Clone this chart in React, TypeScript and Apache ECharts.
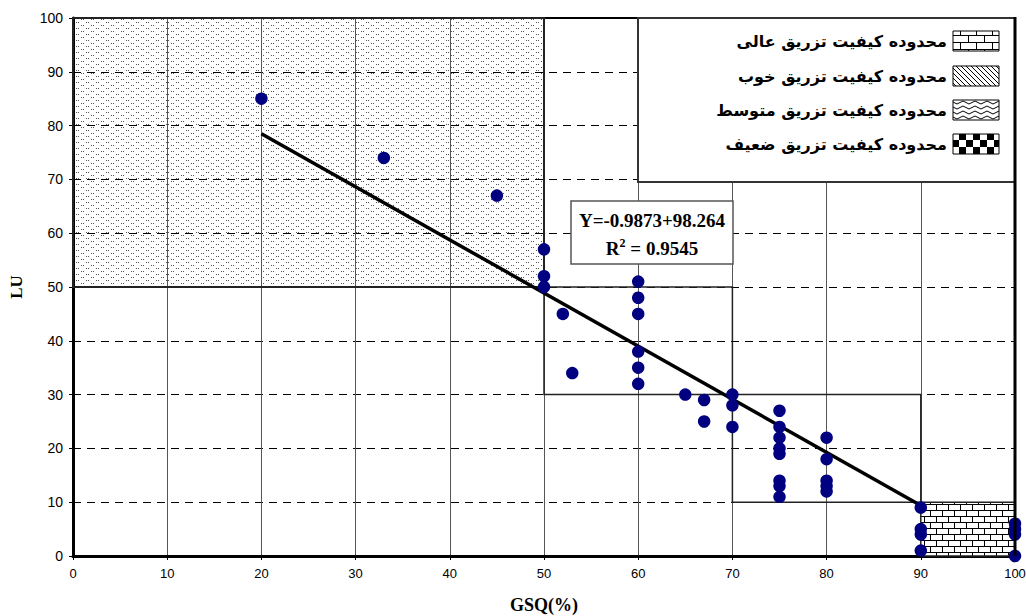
import React, { useEffect, useRef } from "react";
import * as echarts from "echarts";

const gsq = [20, 33, 45, 50, 50, 50, 52, 53, 60, 60, 60, 60, 60, 60, 65, 67, 67, 70, 70, 70, 75, 75, 75, 75, 75, 75, 75, 75, 80, 80, 80, 80, 80, 90, 90, 90, 90, 100, 100, 100, 100];
const lu = [85, 74, 67, 57, 52, 50, 45, 34, 51, 48, 45, 38, 35, 32, 30, 29, 25, 30, 28, 24, 27, 24, 22, 20, 19, 14, 13, 11, 22, 18, 14, 13, 12, 9, 5, 4, 1, 6, 5, 4, 0];
const fitX = [20, 90];
const fitY = [78.5, 9.4];
const axisTicks = [0, 10, 20, 30, 40, 50, 60, 70, 80, 90, 100];
// zones: [xMin, yMin, xMax, yMax]
const zonePoor = [0, 50, 50, 100];
const zoneMid = [50, 30, 70, 50];
const zoneGood = [70, 10, 90, 30];
const zoneExcellent = [90, 0, 100, 10];
const legendLabels = [
  "محدوده کیفیت تزریق عالی",
  "محدوده کیفیت تزریق خوب",
  "محدوده کیفیت تزریق متوسط",
  "محدوده کیفیت تزریق ضعیف",
];
const eqLine1 = "Y=-0.9873+98.264";
const eqR2 = "0.9545";

function makeCanvas(w: number, h: number, draw: (ctx: CanvasRenderingContext2D) => void) {
  const c = document.createElement("canvas");
  c.width = w;
  c.height = h;
  const ctx = c.getContext("2d")!;
  draw(ctx);
  return c;
}

function pattern(c: HTMLCanvasElement) {
  return { image: c, repeat: "repeat", imageWidth: c.width, imageHeight: c.height } as any;
}

export default function App() {
  const ref = useRef<HTMLDivElement>(null);
  useEffect(() => {
    if (!ref.current) return;
    const chart = echarts.init(ref.current, null, { renderer: "svg" });

    const dots = makeCanvas(10, 6, (ctx) => {
      ctx.fillStyle = "#555";
      ctx.fillRect(1, 1, 1, 1);
      ctx.fillRect(3, 1, 1, 1);
      ctx.fillRect(6, 4, 1, 1);
      ctx.fillRect(8, 4, 1, 1);
    });
    const brick = makeCanvas(12, 12, (ctx) => {
      ctx.fillStyle = "#fff";
      ctx.fillRect(0, 0, 12, 12);
      ctx.fillStyle = "#000";
      ctx.fillRect(0, 0, 12, 1);
      ctx.fillRect(0, 6, 12, 1);
      ctx.fillRect(0, 0, 1, 6);
      ctx.fillRect(6, 6, 1, 6);
    });
    const brickLeg = makeCanvas(16, 14, (ctx) => {
      ctx.fillStyle = "#fff";
      ctx.fillRect(0, 0, 16, 14);
      ctx.fillStyle = "#000";
      ctx.fillRect(0, 0, 16, 1);
      ctx.fillRect(0, 7, 16, 1);
      ctx.fillRect(0, 0, 1, 7);
      ctx.fillRect(8, 7, 1, 7);
    });
    const hatch = makeCanvas(5, 5, (ctx) => {
      ctx.fillStyle = "#fff";
      ctx.fillRect(0, 0, 5, 5);
      ctx.fillStyle = "#000";
      for (let i = 0; i < 5; i++) ctx.fillRect(i, i, 1, 1);
    });
    const wave = makeCanvas(12, 5, (ctx) => {
      ctx.fillStyle = "#fff";
      ctx.fillRect(0, 0, 12, 5);
      ctx.strokeStyle = "#000";
      ctx.lineWidth = 1;
      ctx.beginPath();
      ctx.moveTo(0, 2.5);
      ctx.quadraticCurveTo(3, -0.5, 6, 2.5);
      ctx.quadraticCurveTo(9, 5.5, 12, 2.5);
      ctx.stroke();
    });
    const checker = makeCanvas(14, 14, (ctx) => {
      ctx.fillStyle = "#fff";
      ctx.fillRect(0, 0, 14, 14);
      ctx.fillStyle = "#000";
      ctx.fillRect(0, 0, 7, 7);
      ctx.fillRect(7, 7, 7, 7);
    });

    const zone = (z: number[], color: any, bw: number) => [
      { coord: [z[0], z[3]], itemStyle: { color, borderColor: "#222", borderWidth: bw } },
      { coord: [z[2], z[1]] },
    ];

    const legendRows = [41, 76, 110, 144];
    const legendPatterns = [brickLeg, hatch, wave, checker];
    const legendEls: any[] = [
      {
        type: "rect",
        shape: { x: 638, y: 18, width: 377, height: 164 },
        style: { fill: "#fff", stroke: "#333", lineWidth: 2 },
        z: 100,
      },
      {
        type: "line",
        shape: { x1: 1015, y1: 17, x2: 1015, y2: 556 },
        style: { stroke: "#000", lineWidth: 3 },
        z: 101,
      },
    ];
    legendRows.forEach((y, i) => {
      legendEls.push({
        type: "rect",
        shape: { x: 953, y: y - 10, width: 46, height: 20 },
        style: { fill: pattern(legendPatterns[i]), stroke: "#000", lineWidth: 1 },
        z: 101,
      });
      legendEls.push({
        type: "text",
        x: 947,
        y,
        style: {
          text: legendLabels[i],
          font: 'bold 16px "DejaVu Sans"',
          fill: "#000",
          align: "right",
          verticalAlign: "middle",
        },
        z: 101,
      });
    });

    const eqEls: any[] = [
      {
        type: "rect",
        shape: { x: 571, y: 201, width: 162, height: 63 },
        style: { fill: "#fff", stroke: "#555", lineWidth: 1.5 },
        z: 100,
      },
      {
        type: "text",
        x: 652,
        y: 220,
        style: {
          text: eqLine1,
          font: 'bold 19px "Liberation Serif"',
          fill: "#000",
          align: "center",
          verticalAlign: "middle",
        },
        z: 101,
      },
      {
        type: "text",
        x: 652,
        y: 248,
        style: {
          text: "{b|R}{s|2}{b| = " + eqR2 + "}",
          align: "center",
          verticalAlign: "middle",
          rich: {
            b: { font: 'bold 19px "Liberation Serif"', fill: "#000", lineHeight: 22 },
            s: { font: 'bold 12px "Liberation Serif"', fill: "#000", lineHeight: 22, verticalAlign: "top", padding: [0, 0, 6, 0] },
          },
        },
        z: 101,
      },
    ];

    chart.setOption({
      animation: false,
      backgroundColor: "#fff",
      grid: {
        left: 73,
        right: 11,
        top: 18,
        bottom: 60,
        containLabel: false,
        outerBoundsMode: "none",
        show: true,
        borderColor: "#000",
        borderWidth: 2,
        backgroundColor: "transparent",
      },
      xAxis: {
        type: "value",
        min: axisTicks[0],
        max: axisTicks[axisTicks.length - 1],
        interval: 10,
        name: "GSQ(%)",
        nameLocation: "middle",
        nameGap: 40,
        nameTextStyle: { fontFamily: "Liberation Serif", fontWeight: "bold", fontSize: 18, color: "#000" },
        axisLine: { show: true, lineStyle: { color: "#000", width: 3 } },
        axisTick: { show: true, length: 4, lineStyle: { color: "#000" } },
        axisLabel: { fontFamily: "Liberation Sans", fontSize: 13, color: "#000", margin: 11 },
        splitLine: { show: true, lineStyle: { color: "#555", width: 1, type: "solid" } },
      },
      yAxis: {
        type: "value",
        min: axisTicks[0],
        max: axisTicks[axisTicks.length - 1],
        interval: 10,
        name: "LU",
        nameLocation: "middle",
        nameGap: 48,
        nameRotate: 90,
        nameTextStyle: { fontFamily: "Liberation Serif", fontWeight: "bold", fontSize: 17, color: "#000" },
        axisLine: { show: true, lineStyle: { color: "#000", width: 3 } },
        axisTick: { show: true, length: 4, lineStyle: { color: "#000" } },
        axisLabel: { fontFamily: "Liberation Sans", fontSize: 14, color: "#000", margin: 10 },
        splitLine: { show: true, lineStyle: { color: "#000", width: 1, type: [8, 6] } },
      },
      series: [
        {
          type: "scatter",
          data: [],
          z: 1,
          silent: true,
          markArea: {
            silent: true,
            label: { show: false },
            data: [
              zone(zonePoor, pattern(dots), 2),
              zone(zoneMid, "rgba(0,0,0,0)", 1.5),
              zone(zoneGood, "rgba(0,0,0,0)", 1.5),
              zone(zoneExcellent, pattern(brick), 1.5),
            ],
          },
        },
        {
          type: "line",
          data: fitX.map((x, i) => [x, fitY[i]]),
          showSymbol: false,
          symbol: "none",
          lineStyle: { color: "#000", width: 3.5 },
          z: 3,
        },
        {
          type: "scatter",
          data: gsq.map((x, i) => [x, lu[i]]),
          symbol: "circle",
          symbolSize: 12.5,
          itemStyle: { color: "#000080", opacity: 1 },
          z: 4,
        },
      ],
      graphic: [...legendEls, ...eqEls],
    });
    return () => chart.dispose();
  }, []);
  return <div ref={ref} style={{ width: 1026, height: 616, position: "absolute", left: 0, top: 0 }} />;
}
